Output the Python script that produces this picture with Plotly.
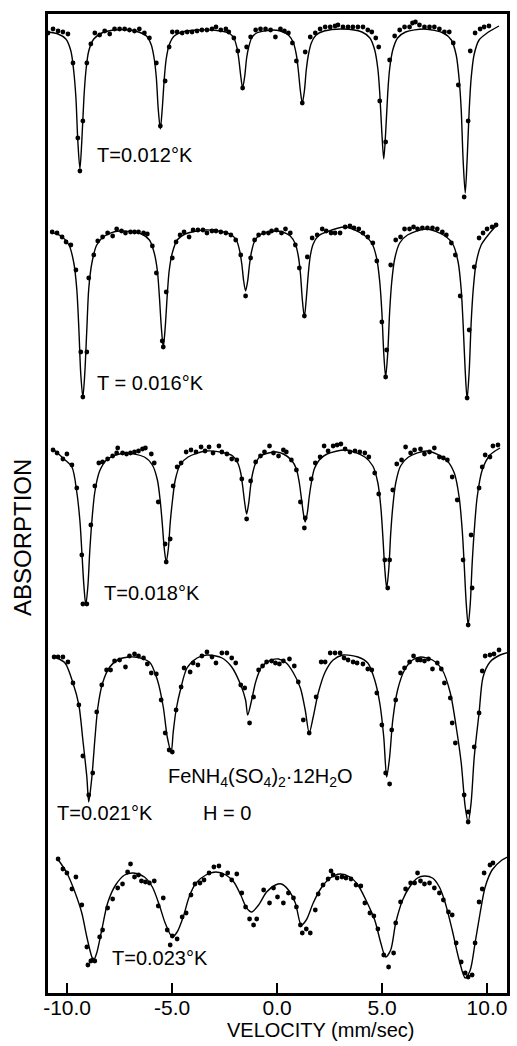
import plotly.graph_objects as go

# ---------------- data (velocity in mm/sec, absorption in arbitrary units, 0 = baseline) -------------
# T = 0.012 K
s1_curve_v = [-10.91, -10.43, -10.06, -9.82, -9.68, -9.58, -9.49, -9.39, -9.30, -9.20, -9.11, -8.97, -8.73, -8.35, -7.74,
              -7.03, -6.60, -6.22, -5.99, -5.85, -5.75, -5.66, -5.56, -5.47, -5.37, -5.28, -5.14, -4.90, -4.52, -3.72,
              -2.68, -2.30, -2.06, -1.92, -1.83, -1.73, -1.64, -1.54, -1.45, -1.35, -1.21, -0.97, -0.60, -0.22,
              0.16, 0.54, 0.78, 0.92, 1.01, 1.11, 1.20, 1.30, 1.39, 1.49, 1.63, 1.86, 2.24, 3.14,
              4.04, 4.42, 4.65, 4.80, 4.89, 4.99, 5.08, 5.17, 5.27, 5.36, 5.51, 5.74, 6.12, 7.02,
              7.92, 8.30, 8.53, 8.67, 8.77, 8.86, 8.96, 9.05, 9.15, 9.24, 9.38, 9.62, 10.00, 10.57]
s1_curve_a = [-4, -6, -11, -23, -44, -70, -113, -141, -113, -70, -44, -23, -11, -5, -2,
              -2, -4, -8, -17, -31, -50, -81, -101, -81, -50, -31, -17, -8, -4, -2,
              -3, -5, -10, -19, -30, -48, -60, -48, -30, -19, -10, -5, -3, -2,
              -3, -7, -15, -27, -42, -63, -75, -63, -42, -27, -15, -7, -3, -1,
              -4, -10, -22, -41, -65, -105, -131, -105, -65, -41, -22, -10, -4, -1,
              -5, -12, -27, -51, -82, -132, -165, -132, -82, -51, -27, -12, -5, 2]
s1_dot_v = [-10.91, -10.67, -10.43, -10.20, -9.96, -9.72, -9.49, -9.39, -9.25, -9.06, -8.87, -8.68, -8.45, -8.21, -7.97,
            -7.74, -7.50, -7.26, -7.03, -6.79, -6.56, -6.32, -6.08, -5.75, -5.56, -5.33, -5.14, -4.99, -4.76, -4.52,
            -4.28, -4.05, -3.81, -3.58, -3.34, -3.10, -2.91, -2.68, -2.44, -2.30, -2.06, -1.87, -1.64, -1.45, -1.26,
            -1.02, -0.79, -0.55, -0.31, -0.08, 0.16, 0.35, 0.54, 0.73, 0.92, 1.20, 1.34, 1.58, 1.82, 2.05,
            2.29, 2.53, 2.76, 2.90, 3.14, 3.38, 3.61, 3.85, 4.09, 4.32, 4.51, 4.70, 4.84, 4.89, 5.17,
            5.36, 5.60, 5.84, 6.07, 6.31, 6.45, 6.59, 6.78, 7.02, 7.26, 7.49, 7.73, 7.97, 8.20, 8.39,
            8.63, 8.91, 9.10, 9.20, 9.43, 9.67, 9.86, 10.09]
s1_dot_a = [-5, -1, -3, -4, -6, -35, -110, -143, -93, -35, -16, -5, -7, -3, -6,
            -1, -1, -1, -2, -3, -1, -5, -10, -35, -98, -53, -19, -4, -4, -5,
            -4, -4, -3, -2, -2, -1, 1, -2, -1, -4, -10, -23, -60, -19, -9,
            -2, -1, -1, -2, -9, -1, -3, -5, -15, -33, -75, -24, -9, -5, -1,
            1, 1, 2, 3, 1, 1, 1, 1, 1, -2, -4, -10, -19, -73, -114,
            -32, -8, -2, 1, 1, 5, 6, 3, 1, 1, 1, -1, -4, -4, -15,
            -57, -169, -93, -23, -5, -1, 1, 2]

# T = 0.016 K
s2_curve_v = [-10.81, -10.29, -9.91, -9.68, -9.54, -9.44, -9.35, -9.25, -9.16, -9.06, -8.97, -8.82, -8.59, -8.21, -7.50,
              -6.46, -6.08, -5.85, -5.70, -5.61, -5.51, -5.42, -5.33, -5.23, -5.14, -4.99, -4.76, -4.38, -3.48,
              -2.54, -2.16, -1.92, -1.78, -1.68, -1.59, -1.50, -1.40, -1.31, -1.21, -1.07, -0.83, -0.45, -0.08,
              0.26, 0.63, 0.87, 1.01, 1.11, 1.20, 1.30, 1.39, 1.49, 1.58, 1.72, 1.96, 2.34, 3.24,
              4.14, 4.51, 4.75, 4.89, 4.99, 5.08, 5.17, 5.27, 5.36, 5.46, 5.60, 5.84, 6.21, 7.11,
              8.01, 8.39, 8.63, 8.77, 8.86, 8.96, 9.05, 9.15, 9.24, 9.34, 9.48, 9.72, 10.09, 10.47]
s2_curve_a = [-3, -7, -16, -34, -60, -100, -145, -168, -145, -100, -60, -34, -16, -7, -2,
              -5, -11, -24, -42, -66, -99, -118, -99, -66, -42, -24, -11, -5, -1,
              -3, -6, -12, -22, -35, -52, -62, -52, -35, -22, -12, -6, -3, -2,
              -3, -7, -15, -27, -44, -70, -88, -70, -44, -27, -15, -7, -3, 2,
              -6, -14, -30, -53, -83, -124, -148, -124, -83, -53, -30, -14, -6, 0,
              -7, -16, -34, -61, -95, -142, -170, -142, -95, -61, -34, -16, -5, 4]
s2_dot_v = [-10.71, -10.48, -10.24, -10.05, -9.82, -9.58, -9.35, -9.25, -9.06, -8.97, -8.73, -8.54, -8.31, -8.07, -7.83,
            -7.64, -7.41, -7.22, -6.98, -6.79, -6.60, -6.36, -6.18, -5.94, -5.75, -5.47, -5.42, -5.28, -4.99, -4.81,
            -4.62, -4.43, -4.19, -4.00, -3.77, -3.53, -3.34, -3.10, -2.91, -2.68, -2.44, -2.20, -1.97, -1.73, -1.50,
            -1.26, -1.07, -0.88, -0.64, -0.41, -0.26, -0.03, 0.21, 0.40, 0.63, 0.87, 1.06, 1.30, 1.44, 1.67,
            1.91, 2.15, 2.34, 2.57, 2.76, 3.00, 3.24, 3.47, 3.66, 3.89, 4.09, 4.32, 4.56, 4.75, 4.99,
            5.17, 5.22, 5.41, 5.65, 5.88, 6.07, 6.31, 6.50, 6.69, 6.92, 7.16, 7.40, 7.63, 7.87, 8.06,
            8.30, 8.49, 8.72, 9.05, 9.15, 9.39, 9.62, 9.81, 10.00, 10.24, 10.43]
s2_dot_a = [-3, -4, -8, -13, -16, -41, -123, -168, -123, -49, -26, -12, -8, -4, -7,
            0, -2, -4, -3, -3, -3, -4, -5, -17, -44, -112, -118, -63, -29, -13,
            -6, -3, -8, -1, -1, -1, -4, -2, -2, -3, -4, -6, -11, -26, -67,
            -29, -11, -6, -4, -4, -2, -1, -4, 0, -4, -16, -39, -87, -28, -9,
            -6, 0, -2, -4, -4, -4, 2, 3, 1, 0, -4, -8, -14, -32, -93,
            -148, -121, -36, -11, -8, 0, 0, 2, 0, 1, 1, 1, 0, -3, -6,
            -14, -26, -67, -169, -101, -38, -9, -4, 0, 2, 4]

# T = 0.018 K
s3_curve_v = [-10.67, -10.15, -9.77, -9.54, -9.39, -9.30, -9.20, -9.11, -9.01, -8.92, -8.82, -8.68, -8.45, -8.07, -7.26,
              -6.32, -5.94, -5.70, -5.56, -5.47, -5.37, -5.28, -5.18, -5.09, -4.99, -4.85, -4.62, -4.24, -3.39,
              -2.49, -2.11, -1.87, -1.73, -1.64, -1.54, -1.45, -1.35, -1.26, -1.16, -1.02, -0.79, -0.41, -0.03,
              0.30, 0.68, 0.92, 1.06, 1.15, 1.25, 1.34, 1.44, 1.53, 1.63, 1.77, 2.01, 2.38, 3.28,
              4.18, 4.56, 4.80, 4.94, 5.03, 5.13, 5.22, 5.32, 5.41, 5.51, 5.65, 5.88, 6.26, 7.16,
              8.06, 8.44, 8.67, 8.82, 8.91, 9.01, 9.10, 9.20, 9.29, 9.39, 9.53, 9.77, 10.14, 10.62]
s3_curve_a = [1, -9, -17, -42, -71, -101, -136, -155, -136, -101, -71, -42, -21, -9, -3,
              -7, -15, -30, -52, -73, -99, -112, -99, -73, -52, -30, -15, -7, -1,
              -3, -6, -13, -23, -36, -53, -64, -53, -36, -23, -13, -6, -3, -2,
              -4, -10, -19, -33, -47, -63, -72, -63, -47, -33, -19, -10, -4, 0,
              -7, -16, -33, -57, -84, -119, -138, -119, -84, -57, -33, -16, -7, -1,
              -10, -23, -47, -81, -114, -154, -175, -154, -114, -81, -47, -20, -5, 2]
s3_dot_v = [-10.67, -10.48, -10.20, -10.01, -9.77, -9.54, -9.30, -9.25, -9.06, -8.87, -8.68, -8.49, -8.31, -8.07, -7.83,
            -7.64, -7.59, -7.36, -7.17, -6.98, -6.79, -6.60, -6.41, -6.27, -5.99, -5.85, -5.66, -5.33, -5.28, -5.09,
            -4.95, -4.76, -4.57, -4.33, -4.10, -3.86, -3.62, -3.43, -3.24, -3.05, -2.77, -2.63, -2.39, -2.16, -1.92,
            -1.68, -1.45, -1.26, -1.02, -0.79, -0.60, -0.36, -0.17, 0.07, 0.30, 0.44, 0.68, 0.92, 1.11, 1.30,
            1.34, 1.63, 1.82, 2.05, 2.24, 2.43, 2.67, 2.86, 3.04, 3.24, 3.47, 3.71, 3.94, 4.18, 4.37,
            4.65, 4.84, 5.13, 5.27, 5.36, 5.51, 5.70, 5.93, 6.12, 6.36, 6.55, 6.83, 7.02, 7.26, 7.49,
            7.73, 7.92, 8.11, 8.34, 8.58, 8.86, 9.10, 9.24, 9.29, 9.62, 9.77, 9.91, 10.14, 10.28, 10.52]
s3_dot_a = [0, -3, -9, -4, -15, -38, -105, -154, -154, -75, -36, -13, -12, -9, -6,
            -3, 2, -3, -4, -3, -2, -1, 1, 2, -4, -13, -52, -94, -112, -89,
            -36, -17, -13, -2, 0, -2, 3, -1, 3, -3, 4, -2, -4, -9, -10,
            -29, -69, -31, -12, -6, -2, 4, -3, -6, 0, -2, -10, -20, -52, -78,
            -68, -29, -13, -7, 4, -1, 4, 5, 6, 1, -2, -1, -2, -3, -7,
            -23, -44, -110, -138, -110, -40, -14, -10, 3, -3, 0, 1, -4, -2, 2,
            -7, -8, -10, -27, -50, -110, -175, -85, -138, -38, -17, -5, -7, 4, 5]

# T = 0.021 K
s4_curve_v = [-10.58, -10.10, -9.72, -9.44, -9.25, -9.06, -8.97, -8.82, -8.68, -8.54, -8.31, -7.97, -7.50, -6.79,
              -6.08, -5.70, -5.42, -5.23, -5.04, -4.95, -4.81, -4.57, -4.29, -3.81, -3.34,
              -2.62, -2.16, -1.73, -1.50, -1.40, -1.21, -1.02, -0.74, -0.26, 0.07,
              0.44, 0.78, 1.11, 1.34, 1.53, 1.72, 1.96, 2.29, 2.67, 3.14,
              3.85, 4.32, 4.65, 4.89, 5.08, 5.22, 5.36, 5.51, 5.74, 6.07, 6.45, 6.83,
              7.40, 7.87, 8.25, 8.53, 8.77, 8.96, 9.10, 9.24, 9.39, 9.62, 9.81, 10.14, 10.62, 11.09]
s4_curve_a = [-2, -8, -28, -50, -85, -122, -147, -122, -85, -53, -28, -12, -4, -2,
              -7, -25, -52, -82, -97, -78, -55, -32, -13, -3, 0,
              -3, -12, -30, -45, -60, -45, -27, -12, -5, -4,
              -8, -18, -33, -55, -78, -62, -38, -17, -5, 0,
              -2, -8, -25, -48, -82, -122, -102, -65, -35, -15, -5, -2,
              -5, -15, -38, -72, -108, -152, -167, -148, -102, -58, -22, -7, 0, 3]
s4_dot_v = [-10.62, -10.43, -10.20, -9.96, -9.72, -9.44, -9.25, -8.97, -8.78, -8.59, -8.35, -8.12, -7.93, -7.74, -7.50,
            -7.22, -7.03, -6.79, -6.60, -6.36, -6.18, -5.99, -5.75, -5.52, -5.33, -5.14, -4.99, -4.81, -4.57, -4.43,
            -4.14, -4.00, -3.77, -3.58, -3.34, -3.10, -2.91, -2.63, -2.39, -2.16, -1.97, -1.73, -1.54, -1.31, -1.12,
            -0.88, -0.69, -0.50, -0.26, -0.08, 0.11, 0.30, 0.59, 0.82, 1.01, 1.25, 1.53, 1.86, 2.10, 2.29,
            2.53, 2.76, 3.00, 3.19, 3.38, 3.62, 3.81, 4.09, 4.32, 4.51, 4.75, 4.99, 5.17, 5.36, 5.46,
            5.65, 5.88, 6.07, 6.31, 6.50, 6.69, 6.83, 7.02, 7.21, 7.40, 7.63, 7.82, 7.97, 8.25, 8.34,
            8.49, 8.91, 9.10, 9.10, 9.39, 9.62, 9.77, 9.91, 10.14, 10.33, 10.57]
s4_dot_a = [-2, -2, -2, -7, -28, -50, -101, -140, -118, -57, -30, -15, -15, -6, -5,
            -12, -1, 1, -1, -3, -9, -18, -19, -45, -78, -95, -97, -55, -32, -13,
            -17, -8, -10, -1, 3, -2, -8, 2, 2, -3, -8, -30, -33, -68, -42,
            -15, -11, -7, -6, -8, -9, -6, -4, -11, -27, -65, -78, -42, -7, -7,
            2, 2, 2, -3, -5, -7, -8, -9, -14, -15, -38, -70, -118, -129, -75,
            -45, -18, -13, -7, -1, -5, -5, -6, -4, -14, -8, -14, -28, -43, -68,
            -88, -140, -157, -167, -92, -58, -16, -1, 0, 1, 5]

# T = 0.023 K
s5_curve_v = [-10.48, -10.01, -9.63, -9.30, -9.06, -8.82, -8.73, -8.59, -8.35, -8.07, -7.69, -7.26, -6.84,
              -6.32, -5.94, -5.61, -5.33, -4.99, -4.76, -4.47, -4.19, -3.86, -3.39, -2.91,
              -2.44, -2.06, -1.73, -1.45, -1.21, -0.88, -0.50, -0.08, 0.21,
              0.54, 0.87, 1.15, 1.39, 1.72, 2.10, 2.53, 3.00,
              3.47, 3.85, 4.23, 4.65, 4.94, 5.17, 5.41, 5.65, 5.98, 6.31, 6.69, 7.02,
              7.40, 7.73, 8.01, 8.34, 8.67, 8.96, 9.20, 9.43, 9.67, 9.91, 10.24, 10.71, 11.18]
s5_curve_a = [14, -1, -20, -41, -65, -85, -88, -81, -58, -31, -13, -3, -1,
              -5, -15, -33, -51, -65, -60, -45, -25, -11, -3, 0,
              -3, -10, -23, -36, -40, -33, -20, -13, -12,
              -18, -31, -53, -48, -31, -16, -6, -2,
              -5, -13, -28, -48, -71, -85, -78, -51, -28, -15, -6, -4,
              -6, -15, -31, -58, -88, -106, -98, -71, -41, -15, 2, 12, 17]
s5_dot_v = [-10.43, -10.20, -10.01, -9.77, -9.58, -9.30, -9.06, -9.01, -8.87, -8.78, -8.68, -8.45, -8.31, -8.07, -7.83,
            -7.59, -7.36, -7.12, -6.98, -6.79, -6.60, -6.46, -6.27, -6.08, -5.85, -5.66, -5.42, -5.23, -5.09, -4.99,
            -4.76, -4.52, -4.33, -4.10, -3.91, -3.67, -3.48, -3.24, -3.01, -2.77, -2.63, -2.35, -2.16, -1.92, -1.68,
            -1.50, -1.31, -1.12, -0.97, -0.64, -0.36, -0.17, 0.02, 0.30, 0.54, 0.78, 0.92, 1.11, 1.20, 1.39,
            1.58, 1.82, 1.96, 2.19, 2.43, 2.57, 2.67, 2.86, 3.09, 3.28, 3.52, 3.76, 3.99, 4.18, 4.42,
            4.61, 4.80, 5.08, 5.31, 5.55, 5.65, 5.88, 6.12, 6.36, 6.55, 6.69, 6.83, 7.02, 7.26, 7.49,
            7.73, 7.92, 8.16, 8.34, 8.53, 8.77, 8.96, 9.10, 9.29, 9.43, 9.62, 9.77, 9.86, 10.14, 10.28]
s5_dot_a = [13, 3, -1, -17, -5, -33, -75, -93, -89, -88, -89, -65, -58, -36, -27,
            -16, -12, 0, 8, -5, -3, -9, -10, -11, -9, -34, -26, -58, -73, -64,
            -67, -45, -41, -23, -12, -11, -8, -1, 5, 6, -3, -1, -8, -2, -21,
            -35, -47, -53, -47, -18, -31, -16, -25, -31, -21, -26, -35, -53, -61, -57,
            -61, -38, -22, -13, -7, 1, -3, -6, -5, -6, -7, -13, -14, -31, -41,
            -44, -57, -83, -95, -81, -51, -30, -17, -11, -11, -1, -9, -12, -11, -16,
            -21, -28, -40, -43, -71, -90, -101, -105, -103, -71, -30, -17, -1, 7, 9]

spectra = [
    (s1_curve_v, s1_curve_a, s1_dot_v, s1_dot_a),
    (s2_curve_v, s2_curve_a, s2_dot_v, s2_dot_a),
    (s3_curve_v, s3_curve_a, s3_dot_v, s3_dot_a),
    (s4_curve_v, s4_curve_a, s4_dot_v, s4_dot_a),
    (s5_curve_v, s5_curve_a, s5_dot_v, s5_dot_a),
]
temperature_labels = ["T=0.012°K", "T = 0.016°K", "T=0.018°K", "T=0.021°K", "T=0.023°K"]
tick_values = [-10, -5, 0, 5, 10]
tick_labels = ["-10.0", "-5.0", "0.0", "5.0", "10.0"]

# ---------------- layout constants -------------
stack_offset = [965, 764, 543, 338, 121]   # vertical stacking of the spectra
label_pos = [(0.102, 0.856), (0.102, 0.623), (0.117, 0.409), (0.015, 0.184), (0.134, 0.036)]
FONT = "Liberation Sans, Arial, sans-serif"

fig = go.Figure()
for (cv, ca, dv, da), off in zip(spectra, stack_offset):
    fig.add_trace(go.Scatter(x=cv, y=[off + a for a in ca], mode="lines",
                             line=dict(color="black", width=1.4, shape="spline", smoothing=0.8),
                             hoverinfo="skip", showlegend=False))
    fig.add_trace(go.Scatter(x=dv, y=[off + a for a in da], mode="markers",
                             marker=dict(color="black", size=4.8),
                             hoverinfo="skip", showlegend=False))

annotations = []
for txt, (px, py) in zip(temperature_labels, label_pos):
    annotations.append(dict(text=txt, x=px, y=py, xref="paper", yref="paper",
                            xanchor="left", yanchor="middle", showarrow=False,
                            font=dict(family=FONT, size=20, color="black")))
annotations.append(dict(text="FeNH<sub>4</sub>(SO<sub>4</sub>)<sub>2</sub>·12H<sub>2</sub>O",
                        x=0.258, y=0.220, xref="paper", yref="paper", xanchor="left", yanchor="middle",
                        showarrow=False, font=dict(family=FONT, size=20, color="black")))
annotations.append(dict(text="H = 0", x=0.333, y=0.184, xref="paper", yref="paper",
                        xanchor="left", yanchor="middle", showarrow=False,
                        font=dict(family=FONT, size=20, color="black")))
annotations.append(dict(text="VELOCITY (mm/sec)", x=0.593, y=-0.0515, xref="paper", yref="paper",
                        xanchor="center", yanchor="bottom", showarrow=False,
                        font=dict(family=FONT, size=20, color="black")))
annotations.append(dict(text="ABSORPTION", x=-0.056, y=0.465, xref="paper", yref="paper",
                        xanchor="center", yanchor="middle", textangle=-90, showarrow=False,
                        font=dict(family=FONT, size=24, color="black")))

fig.update_layout(
    width=517, height=1046,
    margin=dict(l=48, r=7, t=14, b=53),
    paper_bgcolor="white", plot_bgcolor="white",
    showlegend=False,
    annotations=annotations,
    xaxis=dict(range=[-10.91, 10.95], tickvals=tick_values, ticktext=tick_labels,
               ticks="inside", ticklen=10, tickwidth=2, tickcolor="black",
               ticklabelstandoff=-6,
               showline=True, linewidth=2.5, linecolor="black", mirror=True,
               showgrid=False, zeroline=False,
               tickfont=dict(family=FONT, size=21, color="black")),
    yaxis=dict(range=[0, 979], showline=True, linewidth=2.5, linecolor="black", mirror=True,
               showticklabels=False, ticks="", showgrid=False, zeroline=False),
)

fig.write_html("out.html")
